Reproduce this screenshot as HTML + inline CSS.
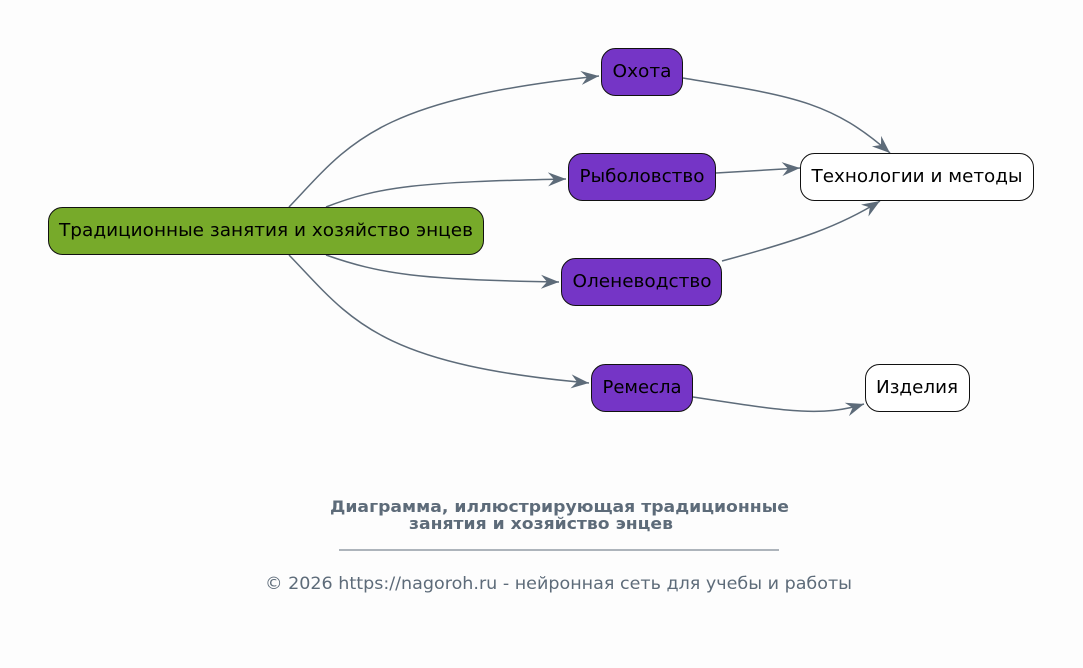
<!DOCTYPE html>
<html><head><meta charset="utf-8"><style>
html,body{margin:0;padding:0;background:#fdfdfd;}
svg{display:block;}
text{font-family:"DejaVu Sans","Liberation Sans",sans-serif;}
</style></head><body>
<svg width="1083" height="668" viewBox="0 0 1083 668" xmlns="http://www.w3.org/2000/svg">
<defs>
<marker id="a" markerUnits="userSpaceOnUse" markerWidth="20" markerHeight="16" refX="18" refY="8" orient="auto">
<path d="M0,1 L18,8 L0,15 L6,8 z" fill="#5d6b79"/>
</marker>
</defs>
<rect width="1083" height="668" fill="#fdfdfd"/>
<g fill="none" stroke="#5d6b79" stroke-width="1.5" marker-end="url(#a)">
<path d="M289,207 C350,143 375,100 599,76"/>
<path d="M326,207 C380,186 420,182 566,179"/>
<path d="M326,255 C380,274 420,280 559,282"/>
<path d="M289,255 C350,318 375,364 589,383"/>
<path d="M683,78 C790,96 830,100 890,153"/>
<path d="M716,173 L800,168"/>
<path d="M722,261 C800,240 840,226 880,201"/>
<path d="M693,397 C780,410 820,418 864,404"/>
</g>
<g stroke="#111" stroke-width="1">
<rect x="48.5" y="207.5" width="435" height="47" rx="14" fill="#77aa2a"/>
<rect x="601.5" y="48.5" width="81" height="47" rx="14" fill="#7535c6"/>
<rect x="568.5" y="153.5" width="147" height="47" rx="14" fill="#7535c6"/>
<rect x="561.5" y="258.5" width="160" height="47" rx="14" fill="#7535c6"/>
<rect x="591.5" y="364.5" width="101" height="47" rx="14" fill="#7535c6"/>
<rect x="800.5" y="153.5" width="233" height="47" rx="14" fill="#fff"/>
<rect x="865.5" y="364.5" width="104" height="47" rx="14" fill="#fff"/>
</g>
<g font-size="17.5" fill="#000" text-anchor="middle" lengthAdjust="spacingAndGlyphs">
<text x="266" y="236" textLength="414" lengthAdjust="spacingAndGlyphs">Традиционные занятия и хозяйство энцев</text>
<text x="642" y="77" textLength="59" lengthAdjust="spacingAndGlyphs">Охота</text>
<text x="642" y="182" textLength="125" lengthAdjust="spacingAndGlyphs">Рыболовство</text>
<text x="642" y="287" textLength="139" lengthAdjust="spacingAndGlyphs">Оленеводство</text>
<text x="642" y="393" textLength="79" lengthAdjust="spacingAndGlyphs">Ремесла</text>
<text x="917" y="182" textLength="211" lengthAdjust="spacingAndGlyphs">Технологии и методы</text>
<text x="917" y="393" textLength="82" lengthAdjust="spacingAndGlyphs">Изделия</text>
</g>
<g fill="#5d6b79" text-anchor="middle">
<text x="559.5" y="512" font-size="16" font-weight="bold" textLength="459" lengthAdjust="spacingAndGlyphs">Диаграмма, иллюстрирующая традиционные</text>
<text x="541" y="529" font-size="16" font-weight="bold" textLength="264" lengthAdjust="spacingAndGlyphs">занятия и хозяйство энцев</text>
<line x1="339" y1="550" x2="779" y2="550" stroke="#5d6b79" stroke-width="1"/>
<text x="558.5" y="589" font-size="17" textLength="587" lengthAdjust="spacingAndGlyphs">© 2026 https://nagoroh.ru - нейронная сеть для учебы и работы</text>
</g>
</svg>
</body></html>
